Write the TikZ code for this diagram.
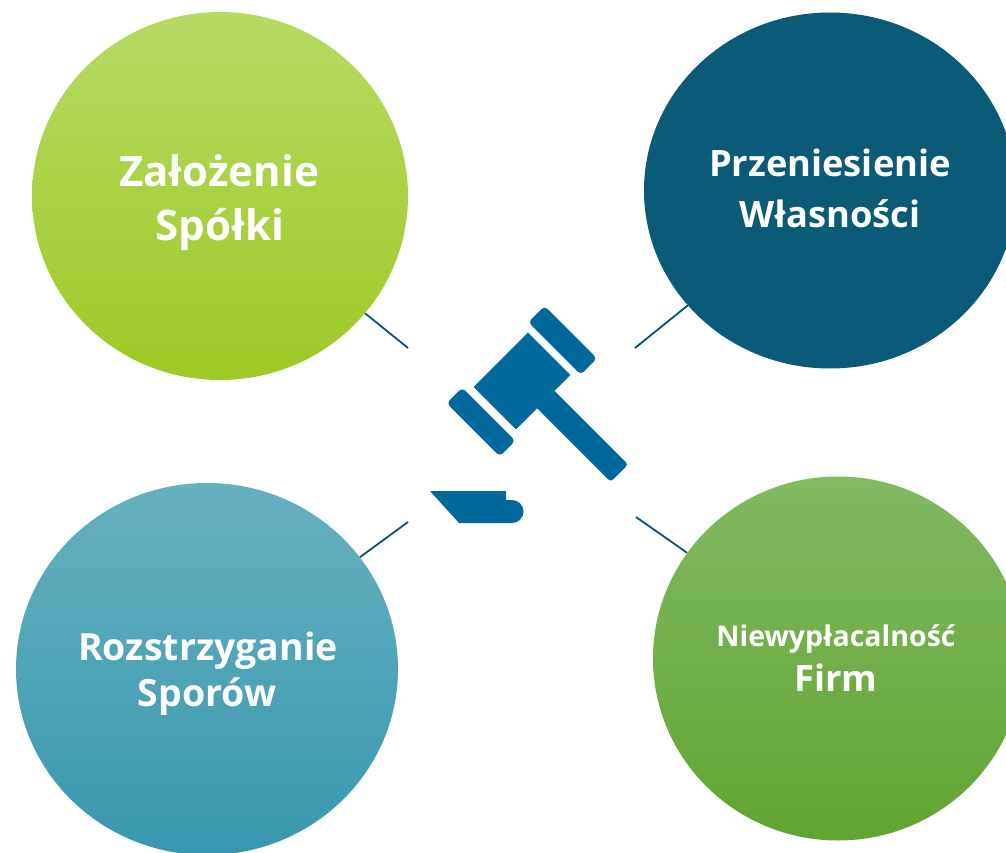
\documentclass[tikz,border=0pt]{standalone}
\usepackage{fontspec}
\setmainfont{Open Sans}
\usetikzlibrary{shapes.geometric}
\definecolor{tltop}{RGB}{183,217,100}
\definecolor{tlmid}{RGB}{173,217,52}
\definecolor{tlbot}{RGB}{158,201,38}
\definecolor{trcol}{RGB}{10,90,120}
\definecolor{bltop}{RGB}{103,176,192}
\definecolor{blbot}{RGB}{56,152,175}
\definecolor{brtop}{RGB}{128,186,98}
\definecolor{brbot}{RGB}{98,164,50}
\definecolor{linecol}{RGB}{11,82,117}
\definecolor{gavelcol}{RGB}{0,104,155}
\begin{document}
\begin{tikzpicture}[x=1pt,y=-1pt,
  blob/.style={ellipse, draw=none, inner sep=0pt},
  conn/.style={draw=linecol, line width=1.8pt},
  lbl/.style={text=white, anchor=base, inner sep=0pt},
  gav/.style={fill=gavelcol, draw=none}]
\useasboundingbox (0,0) rectangle (1006,853);
\clip (0,0) rectangle (1006,853);
\fill[white] (0,0) rectangle (1006,853);
% circles
\node[blob, minimum width=376pt, minimum height=368pt, top color=tltop, middle color=tlmid, bottom color=tlbot] (tl) at (220,196) {};
\node[blob, minimum width=372pt, minimum height=356pt, fill=trcol] (tr) at (830,190.5) {};
\node[blob, minimum width=382pt, minimum height=372pt, top color=bltop, bottom color=blbot] (bl) at (207,669) {};
\node[blob, minimum width=370pt, minimum height=364pt, top color=brtop, bottom color=brbot] (br) at (838,658.5) {};
% connector ends
\coordinate (c1) at (408,348);
\coordinate (c2) at (635,348);
\coordinate (c3) at (408,522);
\coordinate (c4) at (636,517);
\draw[conn] (tl) -- (c1);
\draw[conn] (tr) -- (c2);
\draw[conn] (bl) -- (c3);
\draw[conn] (br) -- (c4);
% labels
\node[lbl, font=\fontsize{42}{44}\selectfont\bfseries] (t1a) at (219,187) {Założenie};
\node[lbl, font=\fontsize{42}{44}\selectfont\bfseries] (t1b) at (220,240) {Spółki};
\node[lbl, font=\fontsize{36.3}{40}\selectfont\bfseries] (t2a) at (830,177) {Przeniesienie};
\node[lbl, font=\fontsize{36.3}{40}\selectfont\bfseries] (t2b) at (830,227) {Własności};
\node[lbl, font=\fontsize{37.5}{40}\selectfont\bfseries] (t3a) at (208,660) {Rozstrzyganie};
\node[lbl, font=\fontsize{37.5}{40}\selectfont\bfseries] (t3b) at (207,706) {Sporów};
\node[lbl, font=\fontsize{28.5}{30}\selectfont\bfseries] (t4a) at (836,646) {Niewypłacalność};
\node[lbl, font=\fontsize{36.3}{40}\selectfont\bfseries] (t4b) at (836,691) {Firm};
% gavel
\begin{scope}[shift={(522,381)}]
\begin{scope}[x={(0.7071pt,-0.7071pt)}, y={(0.7071pt,0.7071pt)}]
\fill[gav, rounded corners=3pt] (26,-8.5) -- (134,-8.5) -- (134,16) -- (26,16) -- cycle;
\fill[gav] (-30,-38.5) -- (30,-38.5) -- (30,38.5) -- (-30,38.5) -- cycle;
\fill[gav, rounded corners=4pt] (-37,46) -- (37,46) -- (37,69) -- (-37,69) -- cycle;
\fill[gav, rounded corners=4pt] (-37.5,-69) -- (37.5,-69) -- (37.5,-47) -- (-37.5,-47) -- cycle;
\end{scope}
\end{scope}
\fill[gav] (430,491) -- (506,491) -- (506,500) -- (512,500)
  arc[start angle=-90, end angle=90, radius=11.5] -- (459,523) -- cycle;
\end{tikzpicture}
\end{document}
